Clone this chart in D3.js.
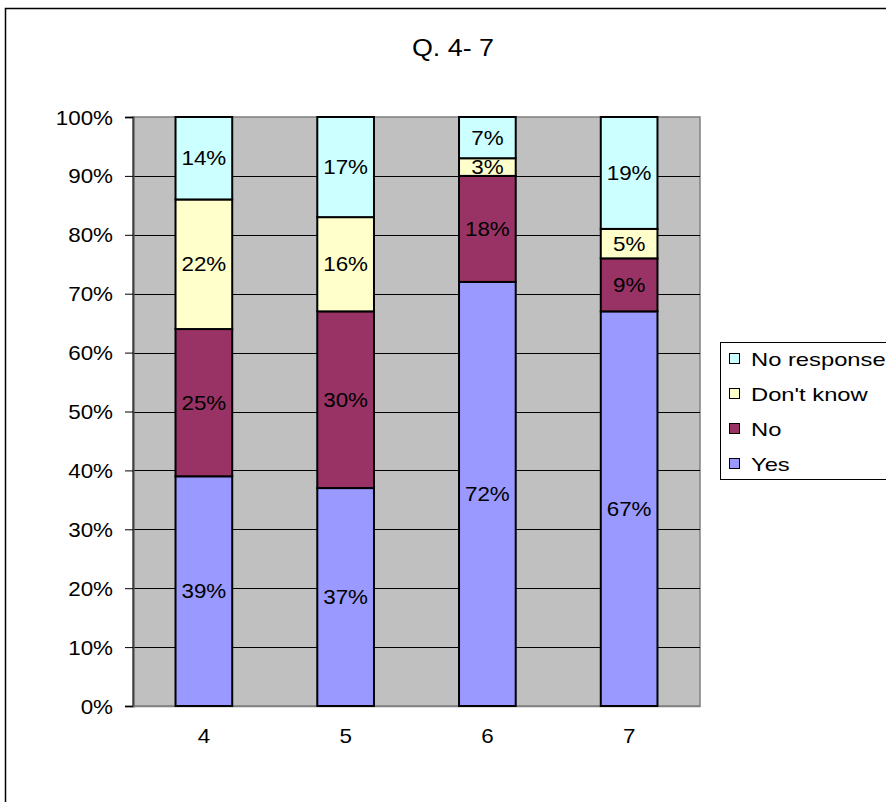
<!DOCTYPE html>
<html>
<head>
<meta charset="utf-8">
<script src="https://cdn.jsdelivr.net/npm/d3@7"></script>
<style>
  html, body { margin: 0; padding: 0; background: #fff; }
  svg { display: block; font-family: "Liberation Sans", Arial, sans-serif; }
</style>
</head>
<body>
<svg id="chart" width="886" height="802"></svg>
<script>
// Questions on the category axis
const questions = ["4", "5", "6", "7"];
// Stacked series, bottom to top (percent of responses)
const yes        = [39, 37, 72, 67];
const no         = [25, 30, 18, 9];
const dontKnow   = [22, 16, 3, 5];
const noResponse = [14, 17, 7, 19];
const seriesNames = ["Yes", "No", "Don't know", "No response"];
const seriesColors = ["#9999FF", "#993366", "#FFFFCC", "#CCFFFF"];
const yTicks = [0, 10, 20, 30, 40, 50, 60, 70, 80, 90, 100];
const title = "Q. 4- 7";

const svg = d3.select("#chart");
const plot = { left: 133, top: 117, right: 700, bottom: 706 };
const sx = 1.12; // horizontal glyph stretch

function stretchedText(g, x, y, str, size, anchor, stretch = sx) {
  return g.append("text")
    .attr("transform", `translate(${x},${y}) scale(${stretch},1)`)
    .attr("text-anchor", anchor)
    .attr("font-size", size)
    .attr("fill", "#000")
    .text(str);
}

// Chart frame
svg.append("rect")
  .attr("x", 5.5).attr("y", 8.5)
  .attr("width", 900).attr("height", 900)
  .attr("fill", "#fff").attr("stroke", "#000").attr("stroke-width", 1.5);

stretchedText(svg, 453, 56, title, 24, "middle");

const x = d3.scaleBand().domain(questions)
  .range([plot.left, plot.right]).paddingInner(0.6).paddingOuter(0.3);
const y = d3.scaleLinear().domain([0, 100]).range([plot.bottom, plot.top]);

// Plot area
svg.append("rect")
  .attr("x", plot.left).attr("y", plot.top)
  .attr("width", plot.right - plot.left).attr("height", plot.bottom - plot.top)
  .attr("fill", "#C0C0C0").attr("stroke", "#808080").attr("stroke-width", 1.5);

// Gridlines
svg.append("g").selectAll("line").data(yTicks.slice(1, -1)).join("line")
  .attr("x1", plot.left).attr("x2", plot.right)
  .attr("y1", d => Math.round(y(d)) + 0.5).attr("y2", d => Math.round(y(d)) + 0.5)
  .attr("stroke", "#000").attr("stroke-width", 1);

// Y axis
const yAxis = svg.append("g").attr("transform", `translate(${plot.left},0)`)
  .call(d3.axisLeft(y).tickValues(yTicks).tickSize(8).tickFormat(d => d + "%"));
yAxis.select(".domain").attr("stroke", "#404040").attr("stroke-width", 2);
yAxis.selectAll(".tick line").attr("stroke", "#000");
yAxis.selectAll(".tick text").remove();
yAxis.selectAll(".tick").each(function(d) {
  stretchedText(d3.select(this), -20, 7, d + "%", 20, "end");
});

// X axis labels
const xAxis = svg.append("g").attr("transform", `translate(0,${plot.bottom})`)
  .call(d3.axisBottom(x).tickSize(0));
xAxis.select(".domain").attr("stroke", "#808080").attr("stroke-width", 1.5);
xAxis.selectAll(".tick text").remove();
xAxis.selectAll(".tick").each(function(d) {
  stretchedText(d3.select(this), 0, 37, d, 20, "middle");
});

// Stacked bars
const rows = questions.map((q, i) => ({ q, "Yes": yes[i], "No": no[i], "Don't know": dontKnow[i], "No response": noResponse[i] }));
const stacked = d3.stack().keys(seriesNames)(rows);
const color = d3.scaleOrdinal().domain(seriesNames).range(seriesColors);

const layers = svg.append("g").selectAll("g").data(stacked).join("g")
  .attr("fill", d => color(d.key));

layers.selectAll("rect").data(d => d).join("rect")
  .attr("x", d => x(d.data.q))
  .attr("width", x.bandwidth())
  .attr("y", d => y(d[1]))
  .attr("height", d => y(d[0]) - y(d[1]))
  .attr("stroke", "#000").attr("stroke-width", 2);

// Value labels
const labels = svg.append("g");
stacked.forEach(layer => {
  layer.forEach(d => {
    const v = d[1] - d[0];
    const cy = (y(d[0]) + y(d[1])) / 2;
    stretchedText(labels, x(d.data.q) + x.bandwidth() / 2, cy + 7, v + "%", 20, "middle");
  });
});

// Legend
const legend = svg.append("g");
legend.append("rect")
  .attr("x", 720.5).attr("y", 342.5).attr("width", 166).attr("height", 137)
  .attr("fill", "#fff").attr("stroke", "#000").attr("stroke-width", 1);
const legendOrder = seriesNames.slice().reverse();
legendOrder.forEach((name, i) => {
  const cy = 359 + i * 35;
  legend.append("rect")
    .attr("x", 729.5).attr("y", cy - 5.5).attr("width", 10).attr("height", 10)
    .attr("fill", color(name)).attr("stroke", "#000").attr("stroke-width", 1);
  stretchedText(legend, 751, cy + 7, name, 19, "start", 1.25);
});
</script>
</body>
</html>
